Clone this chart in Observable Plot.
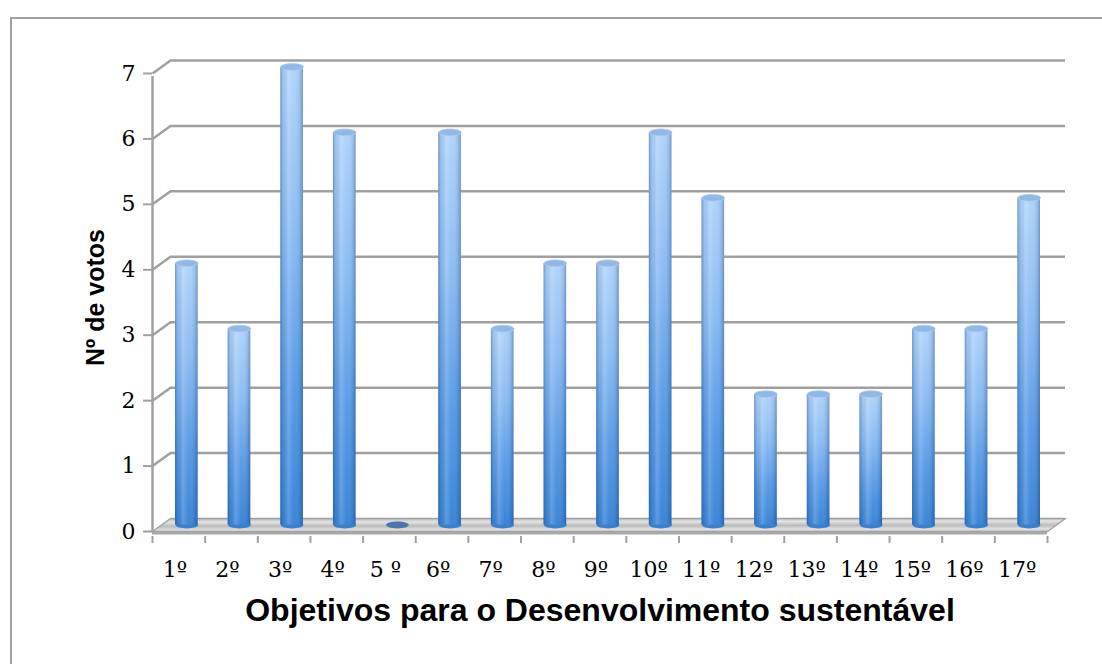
<!DOCTYPE html>
<html>
<head>
<meta charset="utf-8">
<script src="https://cdn.jsdelivr.net/npm/d3@7"></script>
<script src="https://cdn.jsdelivr.net/npm/@observablehq/plot@0.6"></script>
<style>
  html, body { margin: 0; padding: 0; background: #fff; overflow: hidden; }
  #frame { position: absolute; left: 10px; top: 17px; width: 1400px; height: 900px;
           border-top: 2px solid #a0a0a0; border-left: 2px solid #a0a0a0; pointer-events: none; }
  #chart { position: absolute; left: 0; top: 0; }
</style>
</head>
<body>
<svg width="0" height="0" style="position:absolute">
  <defs>
    <linearGradient id="barV" x1="0" y1="0" x2="0" y2="1">
      <stop offset="0" stop-color="#b0d4fb"/>
      <stop offset="0.35" stop-color="#8cbdf3"/>
      <stop offset="0.7" stop-color="#5a9be6"/>
      <stop offset="1" stop-color="#3a85d6"/>
    </linearGradient>
    <linearGradient id="barH" x1="0" y1="0" x2="1" y2="0">
      <stop offset="0" stop-color="#0a2a60" stop-opacity="0.35"/>
      <stop offset="0.12" stop-color="#0a2a60" stop-opacity="0.08"/>
      <stop offset="0.35" stop-color="#ffffff" stop-opacity="0.18"/>
      <stop offset="0.6" stop-color="#ffffff" stop-opacity="0"/>
      <stop offset="0.88" stop-color="#0a2a60" stop-opacity="0.12"/>
      <stop offset="1" stop-color="#0a2a60" stop-opacity="0.35"/>
    </linearGradient>
    <linearGradient id="floor" x1="0" y1="0" x2="0.06" y2="0.6" spreadMethod="repeat">
      <stop offset="0" stop-color="#bcbcbc"/>
      <stop offset="0.5" stop-color="#e2e2e2"/>
      <stop offset="1" stop-color="#bcbcbc"/>
    </linearGradient>
  </defs>
</svg>
<div id="chart"></div>
<div id="frame"></div>
<script>
// ---- data ----
const categories = ["1º","2º","3º","4º","5 º","6º","7º","8º","9º","10º","11º","12º","13º","14º","15º","16º","17º"];
const votes = [4, 3, 7, 6, 0, 6, 3, 4, 4, 6, 5, 2, 2, 2, 3, 3, 5];
const yTicks = [0, 1, 2, 3, 4, 5, 6, 7];
const yTitle = "Nº de votos";
const xTitle = "Objetivos para o Desenvolvimento sustentável";

// ---- layout ----
const W = 1102, H = 664;
const mL = 152, mR = 55, mT = 73, mB = 133;
const n = categories.length;
const yMax = 7;
const depthX = 18, depthY = 13; // px depth of the 3-D box
const ddx = depthX / ((W - mL - mR) / n);
const ddy = depthY / ((H - mT - mB) / yMax);

const data = categories.map((c, i) => ({i, c, v: votes[i]}));
const barsData = data.filter(d => d.v > 0);
const zeroData = data.filter(d => d.v === 0);
const floorPts = [
  {x: 0, y: 0}, {x: n, y: 0}, {x: n + ddx, y: ddy}, {x: ddx, y: ddy}, {x: 0, y: 0}
];

const ellipse = {
  draw(ctx, size) {
    const rx = Math.sqrt(size / Math.PI), ry = rx * 0.3, k = 0.5523;
    ctx.moveTo(rx, 0);
    ctx.bezierCurveTo(rx, ry * k, rx * k, ry, 0, ry);
    ctx.bezierCurveTo(-rx * k, ry, -rx, ry * k, -rx, 0);
    ctx.bezierCurveTo(-rx, -ry * k, -rx * k, -ry, 0, -ry);
    ctx.bezierCurveTo(rx * k, -ry, rx, -ry * k, rx, 0);
    ctx.closePath();
  }
};

const grid = "#a0a0a0";
const bx = depthX / 2 - 1, by = -depthY / 2;
const tickFont = "DejaVu Serif";

const chart = Plot.plot({
  width: W, height: H,
  marginLeft: mL, marginRight: mR, marginTop: mT, marginBottom: mB,
  style: {fontFamily: tickFont, fontSize: "22px", background: "transparent", overflow: "visible", color: "#000"},
  x: {type: "linear", domain: [0, n], axis: null},
  y: {domain: [0, yMax], axis: null},
  marks: [
    // back wall gridlines
    Plot.ruleY(yTicks.filter(t => t > 0), {x1: 0, x2: n, dx: depthX, dy: -depthY, stroke: grid, strokeWidth: 2.5}),
    // left diagonals
    Plot.link(yTicks.filter(t => t > 0), {x1: 0, y1: d => d, x2: ddx, y2: d => d + ddy, stroke: grid, strokeWidth: 2.5}),
    // floor
    Plot.line(floorPts, {x: "x", y: "y", fill: "url(#floor)", stroke: grid, strokeWidth: 1.5}),
    Plot.ruleY([0], {x1: 0, x2: n, dy: 1.5, stroke: "#a8a8a8", strokeWidth: 3}),
    // front vertical axis line
    Plot.ruleX([0], {y1: 0, y2: yMax, stroke: grid, strokeWidth: 2.5, insetBottom: -3}),
    // y axis ticks & labels
    Plot.axisY({ticks: yTicks, tickSize: 9, tickPadding: 8, tickFormat: d3.format("d"), label: null,
      stroke: grid, strokeWidth: 2, fill: "#000", fontSize: 22, fontFamily: tickFont}),
    // x axis ticks (category boundaries)
    Plot.axisX({ticks: d3.range(n + 1), tickSize: 7, tickFormat: () => "", label: null,
      stroke: grid, strokeWidth: 2, dy: 5}),
    // x axis labels
    Plot.axisX({ticks: d3.range(n).map(i => i + 0.5), tickSize: 0, tickPadding: 30, dx: -4, label: null,
      tickFormat: (d) => categories[Math.round(d - 0.5)], fill: "#000", fontSize: 22, fontFamily: tickFont}),
    // cylinders
    Plot.dot(barsData, {x: d => d.i + 0.5, y: 0, dx: bx, dy: by, r: 11.3, symbol: ellipse, fill: "#3a80d0"}),
    Plot.rectY(barsData, {x1: d => d.i, x2: d => d.i + 1, y: "v", insetLeft: 15, insetRight: 15, dx: bx, dy: by, fill: "url(#barV)"}),
    Plot.rectY(barsData, {x1: d => d.i, x2: d => d.i + 1, y: "v", insetLeft: 15, insetRight: 15, dx: bx, dy: by, fill: "url(#barH)"}),
    Plot.dot(barsData, {x: d => d.i + 0.5, y: "v", dx: bx, dy: by, r: 11.3, symbol: ellipse, fill: "#92b8e6", stroke: "#a9cdf5", strokeWidth: 0.8}),
    Plot.dot(zeroData, {x: d => d.i + 0.5, y: 0, dx: bx, dy: by, r: 11.3, symbol: ellipse, fill: "#4c76ad"}),
    // titles
    Plot.text([yTitle], {frameAnchor: "left", rotate: -90, dx: -57, dy: -5, textAnchor: "middle", text: d => d,
      fontFamily: "Liberation Sans", fontWeight: "bold", fontSize: 25, fill: "#000"}),
    Plot.text([xTitle], {frameAnchor: "bottom", dy: 89, text: d => d,
      fontFamily: "Liberation Sans", fontWeight: "bold", fontSize: 32, fill: "#000"})
  ]
});
document.getElementById("chart").appendChild(chart);
</script>
</body>
</html>
